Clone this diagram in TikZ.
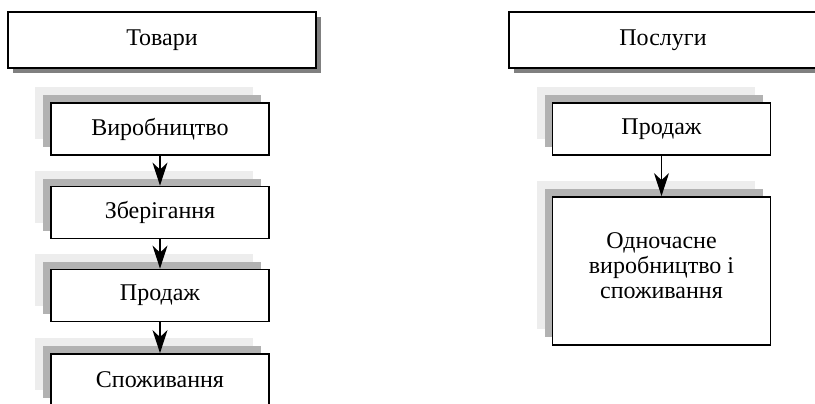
\documentclass[tikz,border=0pt]{standalone}
\usepackage{fontspec}
\setmainfont{Liberation Serif}
\usetikzlibrary{arrows.meta,shadows}
\begin{document}
\begin{tikzpicture}[x=1pt,y=1pt,
  boxfont/.style={font=\fontsize{24}{25}\selectfont},
  topbox/.style={draw, line width=1.8pt, fill=white, minimum width=308pt,
    minimum height=56pt, inner sep=0pt, boxfont,
    general shadow={shadow xshift=5pt, shadow yshift=-5pt, fill=black!50}},
  stepbox/.style={draw, line width=1.8pt, fill=white, minimum width=218pt,
    minimum height=52pt, inner sep=0pt, boxfont, align=center,
    general shadow={shadow xshift=-16pt, shadow yshift=16pt, fill=black!7},
    general shadow={shadow xshift=-8pt, shadow yshift=8pt, fill=black!30}},
  arr/.style={-{Stealth[length=23pt,width=15pt,inset=7pt]}, line width=1.5pt}]
\useasboundingbox (0,0) rectangle (815,-404);
\clip (0,0) rectangle (815,-404);
\node[topbox] (t1) at (162,-40) {Товари};
\node[topbox] (t2) at (663,-40) {Послуги};
\node[stepbox] (v1) at (160,-129) {Виробництво};
\node[stepbox] (v2) at (160,-212.5) {Зберігання};
\node[stepbox] (v3) at (160,-295.5) {Продаж};
\node[stepbox] (v4) at (160,-380) {Споживання};
\node[stepbox] (r1) at (661.5,-129) {Продаж};
\node[stepbox, minimum height=148pt] (r2) at (661.5,-271) {Одночасне\\виробництво і\\споживання\\[-14pt]\mbox{}};
\draw[arr] (v1) -- (v2);
\draw[arr] (v2) -- (v3);
\draw[arr] (v3) -- (v4);
\draw[arr] (r1) -- (r2);
\end{tikzpicture}
\end{document}
